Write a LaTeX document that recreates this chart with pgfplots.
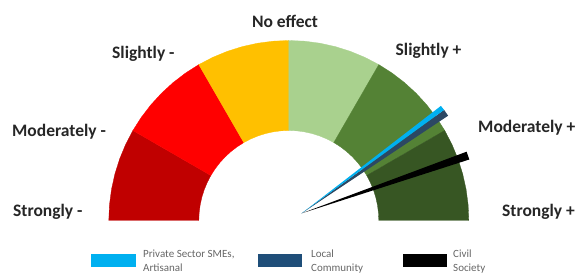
\documentclass[border=0pt]{standalone}
\usepackage{pgfplots}
\pgfplotsset{compat=1.18}
\usepackage{fontspec}
\setmainfont{Carlito}
\definecolor{cDR}{HTML}{C00000}
\definecolor{cR}{HTML}{FF0000}
\definecolor{cO}{HTML}{FFC000}
\definecolor{cLG}{HTML}{A9D18E}
\definecolor{cG}{HTML}{548235}
\definecolor{cDG}{HTML}{375623}
\definecolor{cBlue}{HTML}{00B0F0}
\definecolor{cNavy}{HTML}{1F4E79}
\definecolor{cNavyN}{HTML}{2C4863}
\tikzset{
  lbl/.style={font=\fontsize{17.5bp}{20bp}\selectfont\bfseries, text=black!85, inner sep=0pt, anchor=base west},
  leg/.style={font=\fontsize{11bp}{13bp}\selectfont, text=black!60, inner sep=0pt, anchor=base west},
}
\begin{document}
\begin{tikzpicture}
\begin{axis}[
  width=577bp, height=276bp, scale only axis,
  xmin=-288.8, xmax=288.2, ymin=-55.5, ymax=220.5,
  hide axis, clip=false, no markers,
]
\coordinate (SW) at (rel axis cs:0,0);
\coordinate (NE) at (rel axis cs:1,1);
% gauge segments (angle, radius)
\addplot[data cs=polar, fill=cDR, draw=cDR, line width=0.3pt] coordinates {
 (150,180) (155,180) (160,180) (165,180) (170,180) (175,180) (180,180)
 (180,90) (175,90) (170,90) (165,90) (160,90) (155,90) (150,90)} -- cycle;
\addplot[data cs=polar, fill=cR, draw=cR, line width=0.3pt] coordinates {
 (120,180) (125,180) (130,180) (135,180) (140,180) (145,180) (150,180)
 (150,90) (145,90) (140,90) (135,90) (130,90) (125,90) (120,90)} -- cycle;
\addplot[data cs=polar, fill=cO, draw=cO, line width=0.3pt] coordinates {
 (90,180) (95,180) (100,180) (105,180) (110,180) (115,180) (120,180)
 (120,90) (115,90) (110,90) (105,90) (100,90) (95,90) (90,90)} -- cycle;
\addplot[data cs=polar, fill=cLG, draw=cLG, line width=0.3pt] coordinates {
 (60,180) (65,180) (70,180) (75,180) (80,180) (85,180) (90,180)
 (90,90) (85,90) (80,90) (75,90) (70,90) (65,90) (60,90)} -- cycle;
\addplot[data cs=polar, fill=cG, draw=cG, line width=0.3pt] coordinates {
 (30,180) (35,180) (40,180) (45,180) (50,180) (55,180) (60,180)
 (60,90) (55,90) (50,90) (45,90) (40,90) (35,90) (30,90)} -- cycle;
\addplot[data cs=polar, fill=cDG, draw=cDG, line width=0.3pt] coordinates {
 (0,180) (5,180) (10,180) (15,180) (20,180) (25,180) (30,180)
 (30,90) (25,90) (20,90) (15,90) (10,90) (5,90) (0,90)} -- cycle;
% needles
\addplot[fill=cNavyN, draw=none] coordinates {(12.9,7.2) (155.3,110.6) (159.3,104.8)} -- cycle;
\addplot[fill=cBlue, draw=none] coordinates {(12.9,7.2) (152.1,114.6) (155.3,110.6)} -- cycle;
\addplot[fill=black, draw=none] coordinates {(12.9,7.2) (177.8,68.8) (180.5,61.0)} -- cycle;
% labels
\node[lbl, anchor=base] at (axis cs:-3.8,192.5) {No effect};
\node[lbl] at (axis cs:-176.8,162) {Slightly -};
\node[lbl] at (axis cs:106.7,164.5) {Slightly +};
\node[lbl] at (axis cs:-276.8,84) {Moderately -};
\node[lbl] at (axis cs:189.2,87.5) {Moderately +};
\node[lbl] at (axis cs:-275.8,3.8) {Strongly -};
\node[lbl] at (axis cs:213.2,3.5) {Strongly +};
% legend
\fill[cBlue] (axis cs:-197.8,-47) rectangle (axis cs:-152.8,-33.5);
\fill[cNavy] (axis cs:-30.8,-47) rectangle (axis cs:13.2,-33.5);
\fill[black] (axis cs:114.2,-47) rectangle (axis cs:158.2,-33.5);
\node[leg] at (axis cs:-145.8,-36.5) {Private Sector SMEs,};
\node[leg] at (axis cs:-145.8,-50.5) {Artisanal};
\node[leg] at (axis cs:22.2,-36.5) {Local};
\node[leg] at (axis cs:22.2,-50.5) {Community};
\node[leg] at (axis cs:164.2,-36.5) {Civil};
\node[leg] at (axis cs:164.2,-50.5) {Society};
\end{axis}
\pgfresetboundingbox
\path[use as bounding box] (SW) rectangle (NE);
\end{tikzpicture}
\end{document}
